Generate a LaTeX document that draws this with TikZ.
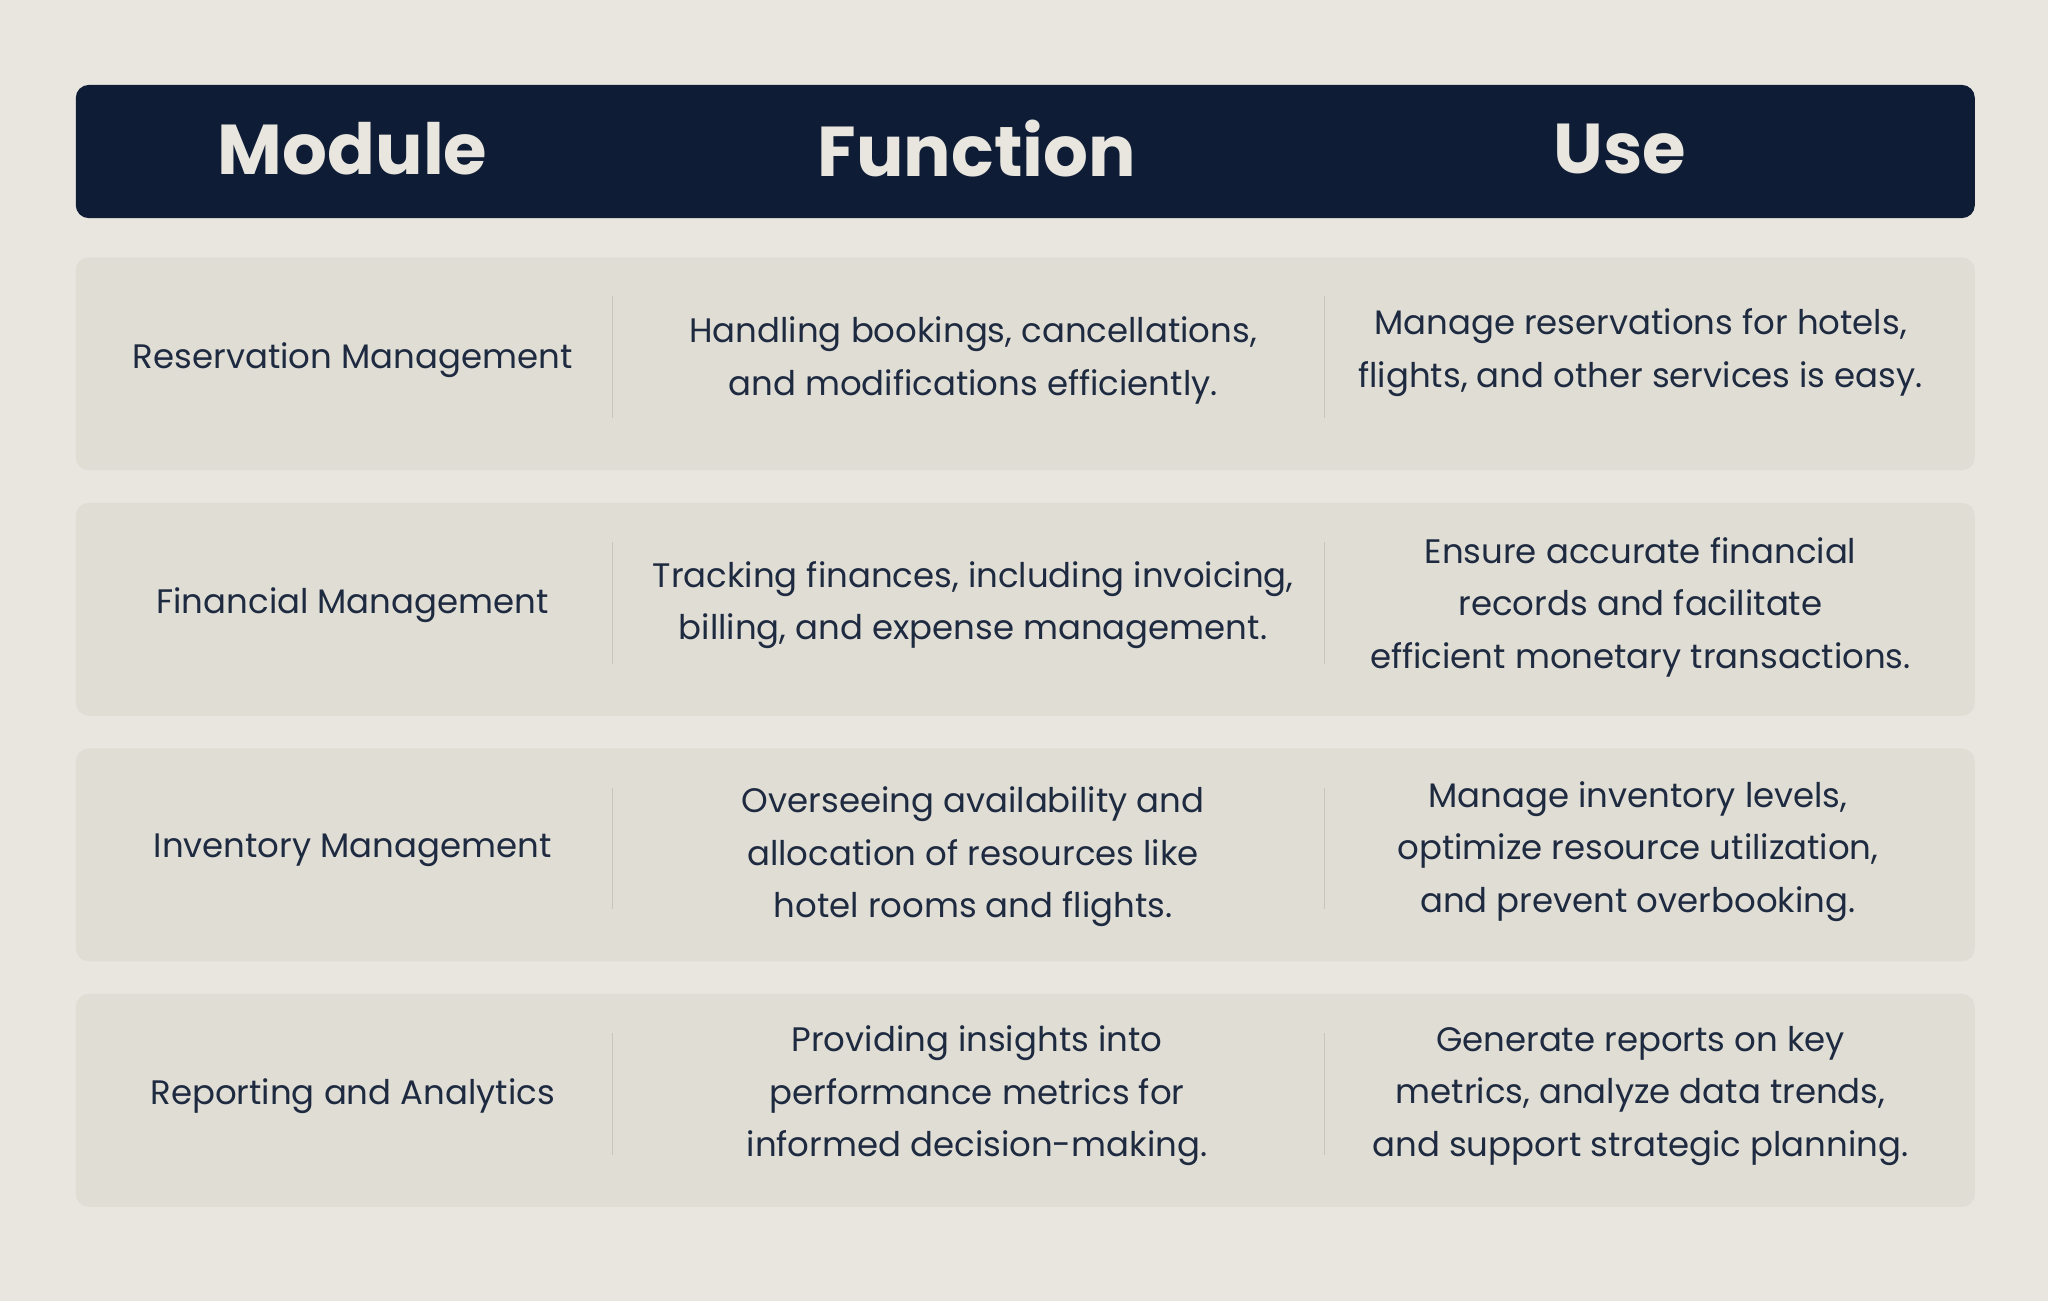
\documentclass[tikz,border=0pt]{standalone}
\usepackage{fontspec}
\setmainfont{Poppins}
\definecolor{bg}{HTML}{E8E6DF}
\definecolor{rowc}{HTML}{E0DDD5}
\definecolor{navy}{HTML}{0F1C36}
\definecolor{ink}{HTML}{1E2A40}
\definecolor{sep}{HTML}{C9C5BC}
\begin{document}
\begin{tikzpicture}[x=0.5pt,y=-0.5pt,
  head/.style={text=bg,font=\fontsize{27}{30}\selectfont\bfseries,anchor=center},
  cell/.style={text=ink,font=\fontsize{13}{20}\selectfont,align=center,anchor=center},
  rowbox/.style={fill=rowc,rounded corners=5pt,draw=none},
  sepline/.style={draw=sep,line width=0.6pt}]
\fill[bg] (0,0) rectangle (1568,996);
\useasboundingbox (0,0) rectangle (1568,996);
\fill[navy,rounded corners=5pt] (58,65) rectangle (1512,167);
\node[head] (h1) at (270,114) {Module};
\node[head] (h2) at (748,114) {Function};
\node[head] (h3) at (1240,114) {Use};
\foreach \t/\b in {197/360,385/548,573/736,761/924}{
  \fill[rowbox] (58,\t) rectangle (1512,\b);
  \draw[sepline] (469,\t+30) -- (469,\b-40);
  \draw[sepline] (1014,\t+30) -- (1014,\b-40);
}
\node[cell] (a1) at (270,276) {Reservation Management};
\node[cell] (b1) at (745,276) {Handling bookings, cancellations,\\and modifications efficiently.};
\node[cell] (c1) at (1256,270) {Manage reservations for hotels,\\flights, and other services is easy.};
\node[cell] (a2) at (270,463) {Financial Management};
\node[cell] (b2) at (745,463) {Tracking finances, including invoicing,\\billing, and expense management.};
\node[cell] (c2) at (1256,465) {Ensure accurate financial\\records and facilitate\\efficient monetary transactions.};
\node[cell] (a3) at (270,651) {Inventory Management};
\node[cell] (b3) at (745,656) {Overseeing availability and\\allocation of resources like\\hotel rooms and flights.};
\node[cell] (c3) at (1254,652) {Manage inventory levels,\\optimize resource utilization,\\and prevent overbooking.};
\node[cell] (a4) at (270,839) {Reporting and Analytics};
\node[cell] (b4) at (748,839) {Providing insights into\\performance metrics for\\informed decision-making.};
\node[cell] (c4) at (1256,839) {Generate reports on key\\metrics, analyze data trends,\\and support strategic planning.};
\end{tikzpicture}
\end{document}
